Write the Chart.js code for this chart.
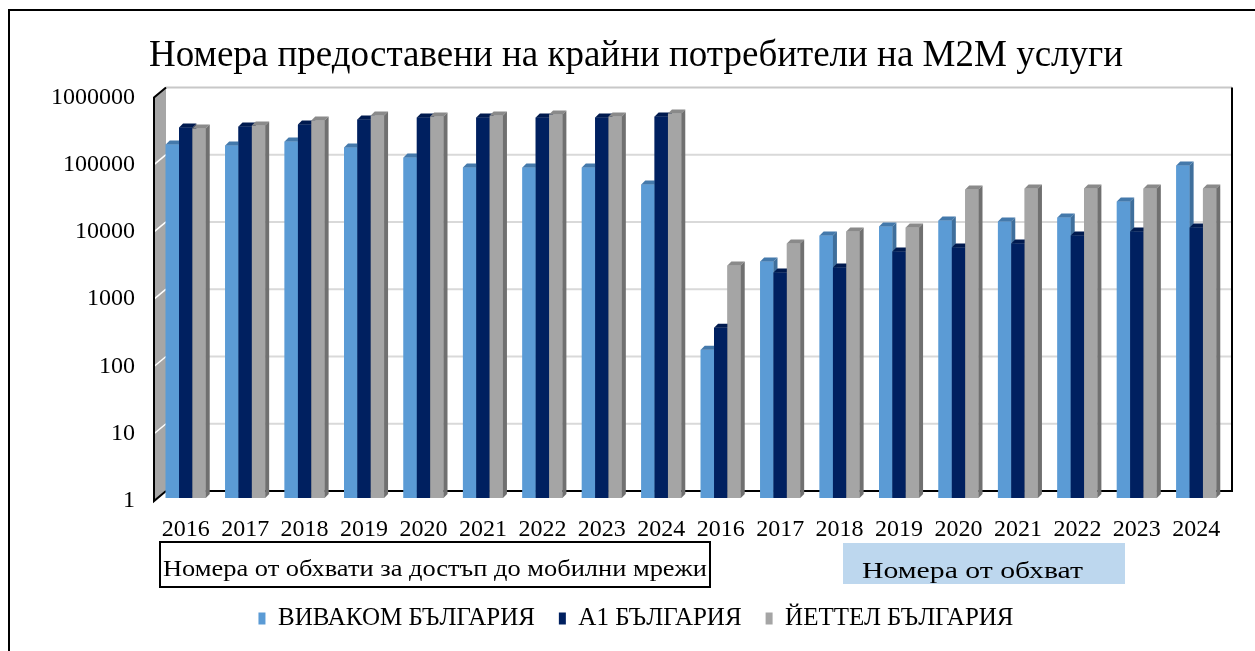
<!DOCTYPE html>
<html>
<head>
<meta charset="utf-8">
<script src="https://cdn.jsdelivr.net/npm/chart.js@4.4.1/dist/chart.umd.min.js"></script>
<style>
  html, body { margin: 0; padding: 0; background: #fff; }
  #wrap { position: relative; width: 1255px; height: 651px; }
</style>
</head>
<body>
<div id="wrap"><canvas id="chart-m2m" width="1255" height="651"></canvas></div>
<script>
const categories = ["2016", "2017", "2018", "2019", "2020", "2021", "2022", "2023", "2024",
                    "2016", "2017", "2018", "2019", "2020", "2021", "2022", "2023", "2024"];
const vivacom = [180000, 174000, 200000, 163000, 115000, 82000, 82000, 82000, 45800,
                 160, 3270, 7980, 10900, 13300, 12900, 14800, 25600, 87700];
const a1 = [323000, 334000, 358000, 425000, 455000, 455000, 455000, 455000, 471000,
            341, 2245, 2670, 4610, 5280, 6070, 7980, 9150, 10500];
const yettel = [312000, 346000, 410000, 487000, 471000, 487000, 504000, 471000, 521000,
                2850, 6070, 9150, 10500, 38600, 39900, 39900, 39900, 39900];
const yTicks = [1, 10, 100, 1000, 10000, 100000, 1000000];
const seriesNames = ["ВИВАКОМ БЪЛГАРИЯ", "А1 БЪЛГАРИЯ", "ЙЕТТЕЛ БЪЛГАРИЯ"];
const groupNames = ["Номера от обхвати за достъп до мобилни мрежи", "Номера от обхват"];
const chartTitle = "Номера предоставени на крайни потребители на М2М услуги";

const SERIF = "'Liberation Serif', 'Times New Roman', serif";
// front / top / side shades per series
const faces = [
  { front: "#5b9bd5", top: "#4479ab", side: "#3f6f9c" },
  { front: "#002060", top: "#001a4f", side: "#00133b" },
  { front: "#a5a5a5", top: "#8a8a8a", side: "#707070" },
];
const DEPTH = 4;

// text squeezed/stretched to a given width (the captions are wider than the font)
function fillTextWidth(ctx, text, x, y, width) {
  const sx = width / ctx.measureText(text).width;
  ctx.save();
  ctx.translate(x, y);
  ctx.scale(sx, 1);
  ctx.fillText(text, 0, 0);
  ctx.restore();
}

// walls, gridlines, 3D bar faces, group boxes
const frame3d = {
  id: "frame3d",
  beforeDraw(chart) {
    const { ctx } = chart;
    ctx.save();
    ctx.fillStyle = "#fff";
    ctx.fillRect(0, 0, chart.width, chart.height);
    ctx.strokeStyle = "#000";
    ctx.lineWidth = 2;
    ctx.beginPath();
    ctx.moveTo(9, chart.height);
    ctx.lineTo(9, 10);
    ctx.lineTo(chart.width, 10);
    ctx.stroke();
    ctx.restore();
  },
  beforeDatasetsDraw(chart) {
    const { ctx, chartArea: a } = chart;
    const y = chart.scales.y;
    const fx = a.left - 2, bx = a.left + 10, rx = a.right + 6;
    const fy = (v) => y.getPixelForValue(v) + 3;
    const by = (v) => y.getPixelForValue(v) - 7;
    ctx.save();
    // back wall gridlines
    ctx.lineWidth = 2;
    yTicks.forEach((v, i) => {
      if (i === 0 || i === yTicks.length - 1) return;
      ctx.strokeStyle = "#d9d9d9";
      ctx.beginPath();
      ctx.moveTo(bx, by(v));
      ctx.lineTo(rx, by(v));
      ctx.stroke();
    });
    const top = yTicks[yTicks.length - 1], bot = yTicks[0];
    ctx.strokeStyle = "#c8c8c8";
    ctx.beginPath();
    ctx.moveTo(bx, by(top));
    ctx.lineTo(rx, by(top));
    ctx.stroke();
    ctx.strokeStyle = "#000";
    ctx.beginPath();
    ctx.moveTo(bx, by(bot));
    ctx.lineTo(rx, by(bot));
    ctx.lineTo(rx, by(top));
    ctx.stroke();
    // left side wall
    ctx.fillStyle = "#a6a6a6";
    ctx.beginPath();
    ctx.moveTo(fx, fy(top));
    ctx.lineTo(bx, by(top));
    ctx.lineTo(bx, by(bot));
    ctx.lineTo(fx, fy(bot));
    ctx.closePath();
    ctx.fill();
    ctx.strokeStyle = "#fff";
    ctx.lineWidth = 1.5;
    yTicks.slice(1, -1).forEach((v) => {
      ctx.beginPath();
      ctx.moveTo(fx, fy(v));
      ctx.lineTo(bx, by(v));
      ctx.stroke();
    });
    ctx.strokeStyle = "#000";
    ctx.lineWidth = 2;
    ctx.beginPath();
    ctx.moveTo(bx, by(top));
    ctx.lineTo(fx, fy(top));
    ctx.lineTo(fx, fy(bot));
    ctx.lineTo(bx, by(bot));
    ctx.stroke();
    ctx.restore();
  },
  afterDatasetsDraw(chart) {
    const { ctx } = chart;
    const metas = [0, 1, 2].map((i) => chart.getDatasetMeta(i));
    ctx.save();
    categories.forEach((_, i) => {
      metas.forEach((meta, s) => {
        const el = meta.data[i];
        el.draw(ctx);
        const { x, y, base, width } = el.getProps(["x", "y", "base", "width"], true);
        const l = x - width / 2, r = x + width / 2;
        ctx.fillStyle = faces[s].top;
        ctx.beginPath();
        ctx.moveTo(l, y);
        ctx.lineTo(l + DEPTH, y - DEPTH);
        ctx.lineTo(r + DEPTH, y - DEPTH);
        ctx.lineTo(r, y);
        ctx.closePath();
        ctx.fill();
        ctx.fillStyle = faces[s].side;
        ctx.beginPath();
        ctx.moveTo(r, y);
        ctx.lineTo(r + DEPTH, y - DEPTH);
        ctx.lineTo(r + DEPTH, base - DEPTH);
        ctx.lineTo(r, base);
        ctx.closePath();
        ctx.fill();
      });
    });
    ctx.restore();
  },
  afterDraw(chart) {
    const { ctx, chartArea: a } = chart;
    ctx.save();
    ctx.textBaseline = "alphabetic";
    // first group caption, framed
    const x1 = a.left + 4;
    ctx.strokeStyle = "#000";
    ctx.lineWidth = 2;
    ctx.strokeRect(x1, 542, 550, 45);
    ctx.fillStyle = "#000";
    ctx.font = "23px " + SERIF;
    fillTextWidth(ctx, groupNames[0], x1 + 3, 576, 544);
    // second group caption, shaded
    ctx.fillStyle = "#bdd7ee";
    ctx.fillRect(843, 543, 282, 41);
    ctx.fillStyle = "#000";
    ctx.font = "23px " + SERIF;
    fillTextWidth(ctx, groupNames[1], 862, 578, 221);
    ctx.restore();
  },
};

new Chart(document.getElementById("chart-m2m"), {
  type: "bar",
  data: {
    labels: categories,
    datasets: [vivacom, a1, yettel].map((d, i) => ({
      label: seriesNames[i],
      data: d,
      backgroundColor: faces[i].front,
      borderWidth: 0,
    })),
  },
  options: {
    responsive: false,
    animation: false,
    devicePixelRatio: 1,
    datasets: { bar: { categoryPercentage: 0.673, barPercentage: 1 } },
    layout: { autoPadding: false, padding: { left: 46, right: 29, top: 0, bottom: 10 } },
    plugins: {
      tooltip: { enabled: false },
      title: {
        display: true,
        text: chartTitle,
        color: "#000",
        font: { family: SERIF, size: 37, weight: "normal" },
        padding: { top: 34, bottom: 16 },
      },
      legend: {
        position: "bottom",
        labels: {
          boxWidth: 7,
          boxHeight: 12,
          padding: 24,
          color: "#000",
          font: { family: SERIF, size: 25 },
        },
      },
    },
    scales: {
      x: {
        grid: { display: false },
        border: { display: false },
        ticks: { color: "#000", font: { family: SERIF, size: 24 }, padding: 9, autoSkip: false, maxRotation: 0 },
        afterFit: (s) => { s.height = 84; },
      },
      y: {
        type: "logarithmic",
        min: 1,
        max: 1000000,
        grid: { display: false },
        border: { display: false },
        afterBuildTicks: (s) => { s.ticks = yTicks.map((v) => ({ value: v })); },
        ticks: { color: "#000", font: { family: SERIF, size: 24 }, padding: 13, labelOffset: 3, callback: (v) => String(v) },
        afterFit: (s) => { s.width = 110; },
      },
    },
  },
  plugins: [frame3d],
});
</script>
</body>
</html>
